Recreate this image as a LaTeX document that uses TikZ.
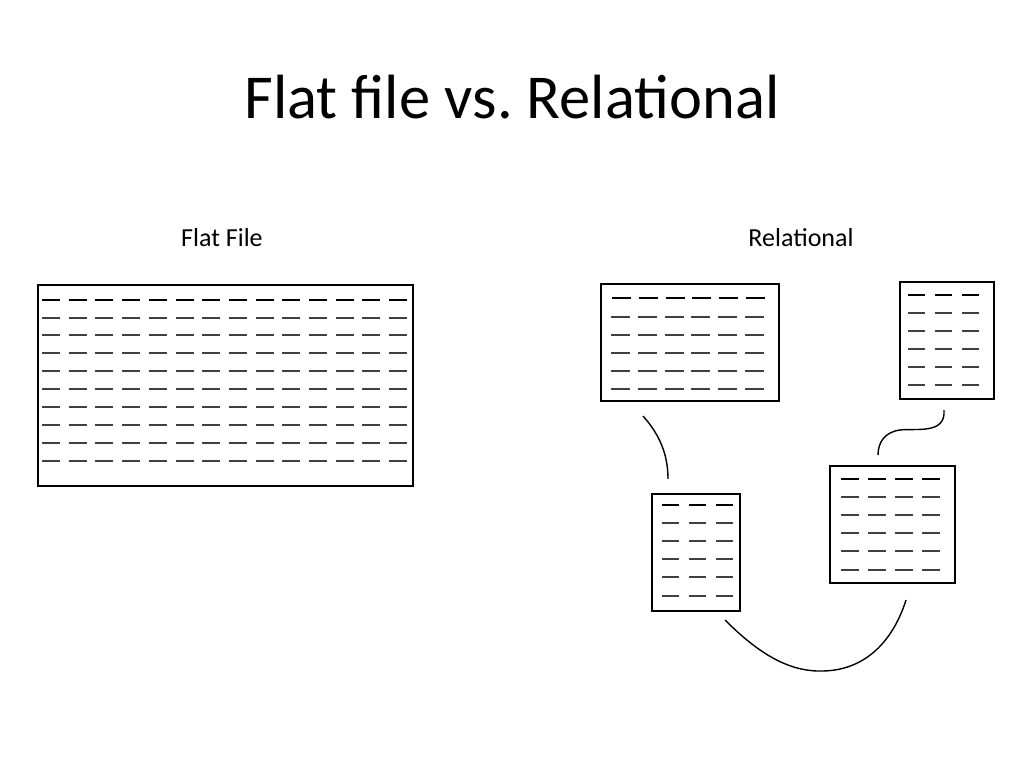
\documentclass[tikz,border=0pt]{standalone}
\usepackage{fontspec}
\setmainfont{Carlito}
\newcommand{\myrow}[6]{\foreach \i in {1,...,#3} \draw[#6] ({#1+(\i-1)*#5},#2) -- ++(#4,0);}
\begin{document}
\begin{tikzpicture}[x=1pt,y=-1pt,
  tbl/.style={draw=black,line width=1.6pt},
  row/.style={draw=black!75,line width=1.1pt},
  hrow/.style={draw=black,line width=1.8pt},
  link/.style={draw=black,line width=1.4pt}]
\useasboundingbox (0,0) rectangle (1024,768);
\node (title) at (512,97) {\fontsize{62.5}{72}\selectfont Flat file vs.\ Relational};
\node (lf) at (222,238) {\fontsize{26}{30}\selectfont Flat File};
\node (lr) at (801,238) {\fontsize{26}{30}\selectfont Relational};
% flat file
\draw[tbl] (38,285) rectangle (413,486);
\myrow{42}{300}{14}{18}{26.7}{hrow}
\foreach \y in {318,335,353,371,389,407,425,443,461} {\myrow{42}{\y}{14}{18}{26.7}{row}}
% table A
\draw[tbl] (601,284) rectangle (779,401);
\myrow{612}{298}{6}{19}{26.8}{hrow}
\foreach \y in {317,335,353,371,389} {\myrow{611}{\y}{6}{19}{26.8}{row}}
% table B
\draw[tbl] (900,282) rectangle (994,399);
\myrow{908}{295}{3}{17}{27}{hrow}
\foreach \y in {313,331,349,367,385} {\myrow{908}{\y}{3}{17}{27}{row}}
% table C
\draw[tbl] (652,494) rectangle (740,611);
\myrow{662}{505}{3}{17}{27}{hrow}
\foreach \y in {523,541,559,577,596} {\myrow{662}{\y}{3}{17}{27}{row}}
% table D
\draw[tbl] (830,466) rectangle (955,583);
\myrow{841}{479}{4}{18}{27}{hrow}
\foreach \y in {497,515,533,551,570} {\myrow{841}{\y}{4}{18}{27}{row}}
% connectors
\coordinate (a1) at (643,416); \coordinate (a2) at (668,479);
\draw[link] (a1) .. controls (660,435) and (668,455) .. (a2);
\coordinate (b1) at (944,410); \coordinate (b2) at (878,455);
\draw[link] (b1) .. controls (946,435) and (915,428) .. (900,430) .. controls (885,432) and (878,442) .. (b2);
\coordinate (c1) at (725,620); \coordinate (c2) at (906,600);
\draw[link] (c1) .. controls (760,655) and (790,672) .. (823,671) .. controls (870,670) and (895,635) .. (c2);
\end{tikzpicture}
\end{document}
